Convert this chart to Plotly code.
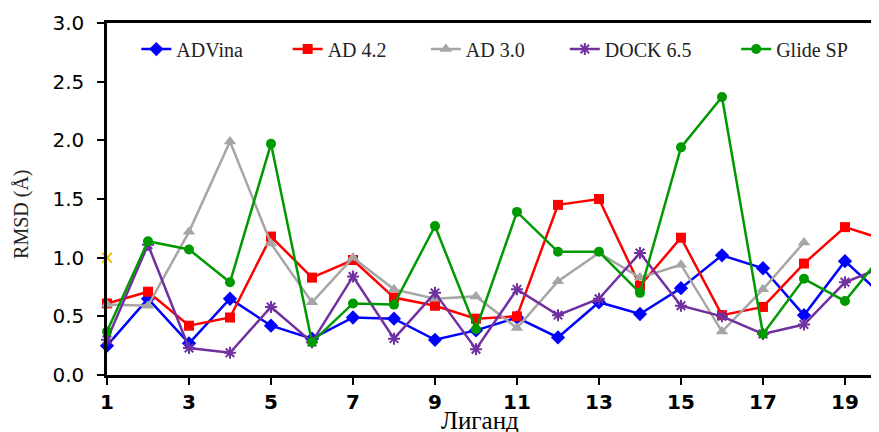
import plotly.graph_objects as go

ligands = list(range(1, 21))
advina = [0.25, 0.65, 0.27, 0.65, 0.42, 0.31, 0.49, 0.48, 0.30, 0.38,
          0.49, 0.32, 0.62, 0.52, 0.74, 1.02, 0.91, 0.51, 0.97, 0.65]
ad42 = [0.61, 0.71, 0.42, 0.49, 1.18, 0.83, 0.98, 0.66, 0.59, 0.48,
        0.50, 1.45, 1.50, 0.76, 1.17, 0.51, 0.58, 0.95, 1.26, 1.15]
ad30 = [0.60, 0.59, 1.22, 1.99, 1.12, 0.62, 1.00, 0.73, 0.65, 0.67,
        0.40, 0.80, 1.04, 0.83, 0.94, 0.37, 0.73, 1.13, None, None]
dock65 = [0.30, 1.11, 0.23, 0.19, 0.58, 0.28, 0.84, 0.31, 0.70, 0.22,
          0.73, 0.51, 0.65, 1.04, 0.59, 0.50, 0.35, 0.43, 0.79, 0.93]
glide = [0.37, 1.14, 1.07, 0.79, 1.97, 0.28, 0.61, 0.60, 1.27, 0.39,
         1.39, 1.05, 1.05, 0.70, 1.94, 2.37, 0.35, 0.82, 0.63, 1.06]
extra_x = [1]
extra_y = [1.0]
y_ticks = [0, 0.5, 1.0, 1.5, 2.0, 2.5, 3.0]
x_ticks = list(range(1, 20, 2))

series = [
    ("ADVina", advina, "#0000FF", "diamond", 11),
    ("AD 4.2", ad42, "#FF0000", "square", 10),
    ("AD 3.0", ad30, "#A6A6A6", "triangle-up", 11),
    ("DOCK 6.5", dock65, "#7030A0", "asterisk-open", 10),
    ("Glide SP", glide, "#009A00", "circle", 10),
]
# legend line-start positions in paper fraction
legend_x = [0.038, 0.234, 0.413, 0.593, 0.815]

fig = go.Figure()
layout_legends = {}
for i, (name, vals, col, sym, sz) in enumerate(series):
    key = "legend" if i == 0 else f"legend{i+1}"
    fig.add_trace(go.Scatter(
        x=ligands, y=vals, name=name, mode="lines+markers",
        line=dict(color=col, width=2.5),
        marker=dict(symbol=sym, size=sz, color=col,
                    line=dict(color=col, width=2 if sym == "asterisk-open" else 0)),
        cliponaxis=False, legend=key,
    ))
    layout_legends[key] = dict(
        x=legend_x[i], y=0.926, xanchor="left", yanchor="middle",
        orientation="h", bgcolor="rgba(0,0,0,0)",
        font=dict(family="Liberation Serif", size=20, color="#222"),
    )
fig.add_trace(go.Scatter(
    x=extra_x, y=extra_y, mode="markers", showlegend=False,
    marker=dict(symbol="x-thin-open", size=10, color="#FFC000",
                line=dict(color="#FFC000", width=2)),
    cliponaxis=False,
))

fig.update_layout(
    width=871, height=424,
    margin=dict(l=99, r=0, t=15, b=57),
    plot_bgcolor="white", paper_bgcolor="white",
    showlegend=True,
    xaxis=dict(range=[1, 19.83], tickvals=x_ticks,
               showline=True, linecolor="black", linewidth=2.5, mirror=True,
               ticks="outside", ticklen=7, tickwidth=2, tickcolor="black",
               showgrid=False, zeroline=False,
               tickfont=dict(family="DejaVu Sans", size=20, color="black", weight="bold")),
    yaxis=dict(range=[0, 3.0], tickvals=y_ticks, tickformat=".1f",
               showline=True, linecolor="black", linewidth=2.5,
               ticks="outside", ticklen=7, tickwidth=2, tickcolor="black",
               ticklabelstandoff=9,
               showgrid=False, zeroline=False,
               tickfont=dict(family="DejaVu Sans", size=20, color="black")),
    annotations=[
        dict(text="Лиганд", xref="paper", yref="paper", x=0.483, y=-0.128,
             xanchor="center", yanchor="middle", showarrow=False,
             font=dict(family="Liberation Serif", size=25, color="black")),
        dict(text="RMSD (Å)", xref="paper", yref="paper", x=-0.110, y=0.455,
             xanchor="center", yanchor="middle", showarrow=False, textangle=-90,
             font=dict(family="Liberation Serif", size=20, color="#222")),
    ],
    **layout_legends,
)

fig.write_html("out.html")
